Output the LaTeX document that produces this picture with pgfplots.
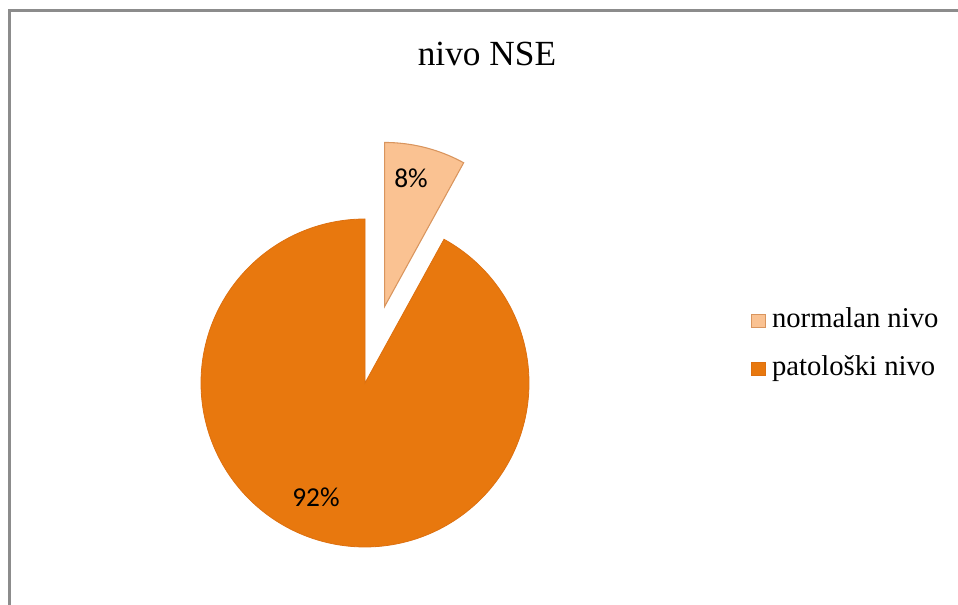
\documentclass[border=0pt]{standalone}
\usepackage{pgfplots}
\usepackage{pgfplotstable}
\pgfplotsset{compat=1.18}
\usepackage{fontspec}
\setmainfont{Liberation Serif}
\newfontfamily\calib{Carlito}
\definecolor{mainor}{HTML}{E8780E}
\definecolor{mainbd}{HTML}{DD7010}
\definecolor{lightor}{HTML}{FAC292}
\definecolor{lightbd}{HTML}{D9955E}
\definecolor{frame}{HTML}{8C8C8C}
\pgfplotstableread{
label value
normalan 8
patoloski 92
}\piedata
\begin{document}
\begin{tikzpicture}[x=0.75pt,y=0.75pt]
\pgfplotstablegetelem{0}{value}\of\piedata \let\va\pgfplotsretval
\pgfplotstablegetelem{1}{value}\of\piedata \let\vb\pgfplotsretval
\pgfmathsetmacro{\aA}{90}
\pgfmathsetmacro{\aB}{90-3.6*\va}
\pgfmathsetmacro{\aC}{\aB-3.6*\vb}
\pgfmathsetmacro{\amid}{(\aA+\aB)/2}
\pgfmathsetmacro{\cx}{365}
\pgfmathsetmacro{\cy}{222}
\pgfmathsetmacro{\rr}{164}
\pgfmathsetmacro{\ex}{\cx+79*cos(\amid)}
\pgfmathsetmacro{\ey}{\cy+79*sin(\amid)}
\begin{axis}[
  at={(0,0)}, anchor=origin,
  scale only axis, width=718.5pt, height=453.75pt,
  xmin=0, xmax=958, ymin=0, ymax=605,
  hide axis, clip=false,
  legend style={at={(axis cs:751,260)}, anchor=west, draw=none, fill=none,
    font=\fontsize{21.5}{26}\selectfont, row sep=12pt, column sep=4pt,
    inner sep=0pt,
    nodes={inner sep=1pt, text height=16pt, text depth=6pt}},
  legend cell align=left,
  legend image code/.code={\draw[#1, line width=0.6pt] (0pt,-4.8pt) rectangle (10pt,5.2pt);},
]
\addplot[fill=lightor, draw=lightbd, line width=0.8pt, domain=\aB:\aA, samples=60, variable=\t]
  ({\ex+\rr*cos(t)},{\ey+\rr*sin(t)}) -- (axis cs:\ex,\ey) -- cycle;
\addlegendentry{normalan nivo}
\addplot[fill=mainor, draw=mainbd, line width=0.6pt, domain=\aC:\aB, samples=200, variable=\t]
  ({\cx+\rr*cos(t)},{\cy+\rr*sin(t)}) -- (axis cs:\cx,\cy) -- cycle;
\addlegendentry{patološki nivo}
\node[font=\calib\fontsize{20.5}{24}\selectfont] at (axis cs:411,427) {8\%};
\node[font=\calib\fontsize{20.5}{24}\selectfont] at (axis cs:316,108) {92\%};
\node[anchor=base, font=\fontsize{26.5}{30}\selectfont] at (axis cs:487,539.3) {nivo NSE};
\draw[frame, line width=2.3pt] (axis cs:9.5,-20) -- (axis cs:9.5,594.7) -- (axis cs:980,594.7);
\end{axis}
\pgfresetboundingbox
\path[use as bounding box] (0,0) rectangle (958,605);
\end{tikzpicture}
\end{document}
